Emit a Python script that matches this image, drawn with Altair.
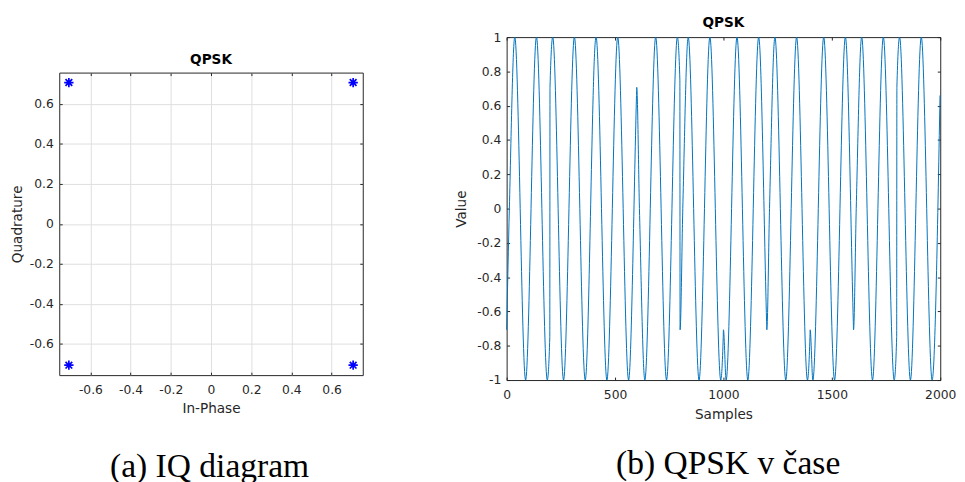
import altair as alt
import pandas as pd

# ---------------- data ----------------
# IQ constellation (QPSK)
iq_inphase = [-0.7071, -0.7071, 0.7071, 0.7071]
iq_quadrature = [0.7071, -0.7071, 0.7071, -0.7071]

# QPSK waveform key points (peaks, troughs, zero crossings, symbol-boundary values)
sample_idx = [0, 12.5, 37.5, 87.5, 137.5, 187.5, 199,
              200, 212.5, 262.5, 312.5, 362.5, 399,
              400, 412.5, 462.5, 512.5, 562.5, 599,
              600, 612.5, 637.5, 687.5, 737.5, 787.5, 799,
              800, 812.5, 837.5, 887.5, 937.5, 987.5, 999,
              1000, 1012.5, 1062.5, 1112.5, 1162.5, 1199,
              1200, 1212.5, 1237.5, 1287.5, 1337.5, 1387.5, 1399,
              1400, 1412.5, 1462.5, 1512.5, 1562.5, 1599,
              1600, 1612.5, 1637.5, 1687.5, 1737.5, 1787.5, 1799,
              1800, 1812.5, 1862.5, 1912.5, 1962.5, 1999]
signal_val = [-0.707, 0, 1, -1, 1, -1, -0.75,
              0.707, 1, -1, 1, -1, 0.66,
              0.707, 1, -1, 1, -1, 0.66,
              0.707, 0, -1, 1, -1, 1, 0.75,
              -0.707, 0, 1, -1, 1, -1, -0.75,
              -0.707, -1, 1, -1, 1, -0.66,
              -0.707, 0, 1, -1, 1, -1, -0.75,
              -0.707, -1, 1, -1, 1, -0.66,
              -0.707, 0, 1, -1, 1, -1, -0.75,
              0.707, 1, -1, 1, -1, 0.66]

iq_ticks = [-0.6, -0.4, -0.2, 0, 0.2, 0.4, 0.6]
sig_x_ticks = [0, 500, 1000, 1500, 2000]
sig_y_ticks = [-1, -0.8, -0.6, -0.4, -0.2, 0, 0.2, 0.4, 0.6, 0.8, 1]

captions = ["(a) IQ diagram", "(b) QPSK v čase"]

# ---------------- styling ----------------
FONT = "DejaVu Sans"
AX = "#262626"
TICK_FS = 12.5
LAB_FS = 13.8
CAP_FONT = "Liberation Serif"
CAP_FS = 34
ASTERISK = "M-1,0L1,0M0,-1L0,1M-0.72,-0.72L0.72,0.72M-0.72,0.72L0.72,-0.72"


def main_axis(values, title, orient, grid=False, label_pad=6, title_pad=6):
    return alt.Axis(
        values=values, title=title, orient=orient, grid=grid,
        gridColor="#dedede", gridWidth=1,
        domain=False, ticks=True, tickSize=3, tickColor=AX, tickWidth=1,
        offset=-3, labelPadding=label_pad, labelFont=FONT,
        labelFontSize=TICK_FS, labelColor=AX, labelExpr="'' + datum.value",
        labelFlush=False, labelOverlap=False,
        titleFont=FONT, titleFontSize=LAB_FS, titleFontWeight="normal",
        titleColor=AX, titlePadding=title_pad,
    )


def tick_axis(values, orient):
    return alt.Axis(
        values=values, title=None, orient=orient, grid=False, labels=False,
        domain=False, ticks=True, tickSize=3, tickColor=AX, tickWidth=1,
        offset=-3,
    )


def panel_title(text, offset):
    return alt.TitleParams(text=text, font=FONT, fontSize=LAB_FS,
                           fontWeight="bold", color="black", offset=offset,
                           anchor="middle")


def caption_title(text, offset):
    return alt.TitleParams(text=text, orient="bottom", font=CAP_FONT,
                           fontSize=CAP_FS, fontWeight="normal",
                           color="black", offset=offset, anchor="middle",
                           dx=23)


# ---------------- left: IQ diagram ----------------
iq_df = pd.DataFrame({"I": iq_inphase, "Q": iq_quadrature})
iq_xs = alt.Scale(domain=[-0.755, 0.755], nice=False, zero=False)
iq_ys = alt.Scale(domain=[-0.757, 0.757], nice=False, zero=False)

iq_points = alt.Chart(iq_df).mark_point(
    shape=ASTERISK, size=90, filled=False, stroke="#0000ff", strokeWidth=1.7,
    opacity=1,
).encode(
    x=alt.X("I:Q", scale=iq_xs,
            axis=main_axis(iq_ticks, "In-Phase", "bottom", grid=True,
                           label_pad=8.5, title_pad=5.5)),
    y=alt.Y("Q:Q", scale=iq_ys,
            axis=main_axis(iq_ticks, "Quadrature", "left", grid=True,
                           label_pad=6, title_pad=5)),
)
iq_box_ticks = alt.Chart(iq_df).mark_point(opacity=0).encode(
    x=alt.X("I:Q", scale=iq_xs, axis=tick_axis(iq_ticks, "top")),
    y=alt.Y("Q:Q", scale=iq_ys, axis=tick_axis(iq_ticks, "right")),
)
iq_chart = alt.layer(iq_points, iq_box_ticks).resolve_axis(
    x="independent", y="independent"
).properties(width=308, height=307, title=panel_title("QPSK", 5))

spacer = alt.Chart(iq_df).mark_point(opacity=0).encode(
    x=alt.value(0), y=alt.value(0)
).properties(width=308, height=16, view=alt.ViewBackground(stroke=None))

left = alt.vconcat(spacer, iq_chart, spacing=0).properties(
    title=caption_title(captions[0], 35.5)
)

# ---------------- right: QPSK waveform ----------------
sig_df = pd.DataFrame({"Samples": sample_idx, "Value": signal_val})
sig_xs = alt.Scale(domain=[0, 2000], nice=False, zero=False)
sig_ys = alt.Scale(domain=[-1, 1], nice=False, zero=False)

sig_line = alt.Chart(sig_df).mark_line(
    interpolate="monotone", color="#0072BD", strokeWidth=1
).encode(
    x=alt.X("Samples:Q", scale=sig_xs,
            axis=main_axis(sig_x_ticks, "Samples", "bottom",
                           label_pad=8.5, title_pad=7.5)),
    y=alt.Y("Value:Q", scale=sig_ys,
            axis=main_axis(sig_y_ticks, "Value", "left",
                           label_pad=6, title_pad=8)),
    order="Samples:Q",
)
sig_box_ticks = alt.Chart(sig_df).mark_point(opacity=0).encode(
    x=alt.X("Samples:Q", scale=sig_xs, axis=tick_axis(sig_x_ticks, "top")),
    y=alt.Y("Value:Q", scale=sig_ys, axis=tick_axis(sig_y_ticks, "right")),
)
sig_chart = alt.layer(sig_line, sig_box_ticks).resolve_axis(
    x="independent", y="independent"
).properties(width=440, height=348, title=panel_title("QPSK", 1))

right = alt.vconcat(sig_chart, spacing=0).properties(
    title=caption_title(captions[1], 25.5)
)

chart = alt.hconcat(left, right, spacing=92).properties(
    padding={"left": 2, "top": 4, "right": 0, "bottom": 0}
).configure_view(stroke=AX, strokeWidth=1)

chart.save("out.html", embed_options={"renderer": "svg", "actions": False})
